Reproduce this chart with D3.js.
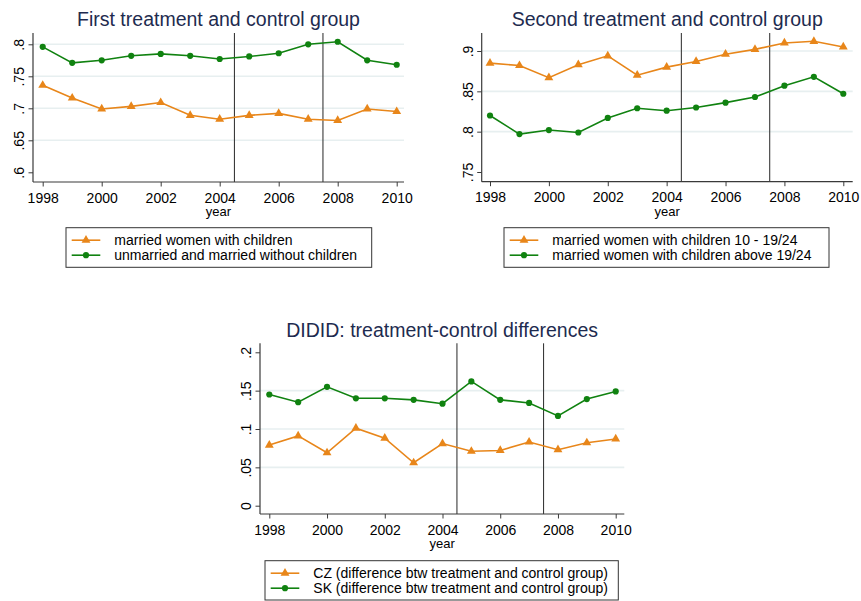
<!DOCTYPE html>
<html>
<head>
<meta charset="utf-8">
<script src="https://cdn.jsdelivr.net/npm/d3@7"></script>
<style>
  html, body { margin: 0; padding: 0; background: #ffffff; }
  svg { display: block; font-family: "Liberation Sans", Arial, sans-serif; }
</style>
</head>
<body>
<svg id="chart" width="861" height="601"></svg>
<script>
// ---------- data ----------
const years = [1998, 1999, 2000, 2001, 2002, 2003, 2004, 2005, 2006, 2007, 2008, 2009, 2010];
const xTickValues = [1998, 2000, 2002, 2004, 2006, 2008, 2010];
const reformLines = [2004.5, 2007.5];

// Panel 1
const p1Title = "First treatment and control group";
const p1Orange = [0.736, 0.716, 0.699, 0.703, 0.709, 0.689, 0.683, 0.689, 0.692, 0.683, 0.681, 0.699, 0.695];
const p1Green  = [0.796, 0.771, 0.775, 0.782, 0.785, 0.782, 0.777, 0.781, 0.786, 0.800, 0.804, 0.775, 0.768];
const p1OrangeLabel = "married women with children";
const p1GreenLabel = "unmarried and married without children";
const p1YTicks = [0.6, 0.65, 0.7, 0.75, 0.8];
const p1YTickLabels = [".6", ".65", ".7", ".75", ".8"];
const p1Grid = [0.65, 0.7, 0.75, 0.8];

// Panel 2
const p2Title = "Second treatment and control group";
const p2Orange = [0.885, 0.882, 0.867, 0.883, 0.894, 0.870, 0.880, 0.887, 0.896, 0.902, 0.910, 0.912, 0.905];
const p2Green  = [0.820, 0.797, 0.802, 0.799, 0.817, 0.829, 0.826, 0.830, 0.836, 0.843, 0.857, 0.868, 0.847];
const p2OrangeLabel = "married women with children 10 - 19/24";
const p2GreenLabel = "married women with children above 19/24";
const p2YTicks = [0.75, 0.8, 0.85, 0.9];
const p2YTickLabels = [".75", ".8", ".85", ".9"];
const p2Grid = [0.8, 0.85, 0.9];

// Panel 3
const p3Title = "DIDID: treatment-control differences";
const p3Orange = [0.079, 0.091, 0.069, 0.101, 0.088, 0.056, 0.081, 0.071, 0.072, 0.083, 0.073, 0.082, 0.087];
const p3Green  = [0.145, 0.135, 0.155, 0.140, 0.140, 0.138, 0.133, 0.162, 0.138, 0.134, 0.117, 0.139, 0.149];
const p3OrangeLabel = "CZ (difference btw treatment and control group)";
const p3GreenLabel = "SK (difference btw treatment and control group)";
const p3YTicks = [0, 0.05, 0.1, 0.15, 0.2];
const p3YTickLabels = ["0", ".05", ".1", ".15", ".2"];
const p3Grid = [0.05, 0.1, 0.15];

const xLabel = "year";

// ---------- styles ----------
const ORANGE = "#e8861a";
const GREEN = "#108210";
const AXIS = "#3a3a3a";
const GRID = "#e7eff0";
const TITLE = "#1e2b4f";

// ---------- layout ----------
const panels = [
  { title: p1Title, orange: p1Orange, green: p1Green, oLab: p1OrangeLabel, gLab: p1GreenLabel,
    yTicks: p1YTicks, yLabels: p1YTickLabels, grid: p1Grid,
    left: 33, right: 404, top: 33, bottom: 182,
    xr: [42.7, 396.7], yd: [0.6, 0.8], yr: [172.3, 44.3],
    leg: { x: 66, y: 227.7, w: 305.7, h: 39.6 }, titleY: 26 },
  { title: p2Title, orange: p2Orange, green: p2Green, oLab: p2OrangeLabel, gLab: p2GreenLabel,
    yTicks: p2YTicks, yLabels: p2YTickLabels, grid: p2Grid,
    left: 481.7, right: 852.7, top: 33, bottom: 181.7,
    xr: [490, 843.3], yd: [0.75, 0.9], yr: [172, 51],
    leg: { x: 504, y: 227.7, w: 325, h: 39.6 }, titleY: 26 },
  { title: p3Title, orange: p3Orange, green: p3Green, oLab: p3OrangeLabel, gLab: p3GreenLabel,
    yTicks: p3YTicks, yLabels: p3YTickLabels, grid: p3Grid,
    left: 260, right: 624.3, top: 343.3, bottom: 514,
    xr: [269.3, 615.7], yd: [0, 0.2], yr: [505.7, 352.3],
    leg: { x: 265, y: 560.7, w: 353.3, h: 39.3 }, titleY: 337.3 }
];

const svg = d3.select("#chart");
const triangle = d3.symbol().type(d3.symbolTriangle).size(34);
const circle = d3.symbol().type(d3.symbolCircle).size(30);

panels.forEach(p => {
  const g = svg.append("g");
  const x = d3.scaleLinear().domain([years[0], years[years.length - 1]]).range(p.xr);
  const y = d3.scaleLinear().domain(p.yd).range(p.yr);

  // title
  g.append("text")
    .attr("x", (p.left + p.right) / 2).attr("y", p.titleY)
    .attr("text-anchor", "middle").attr("font-size", 19.5).attr("fill", TITLE)
    .text(p.title);

  // gridlines
  g.selectAll(".grid").data(p.grid).enter().append("line")
    .attr("x1", p.left).attr("x2", p.right)
    .attr("y1", d => y(d)).attr("y2", d => y(d))
    .attr("stroke", GRID).attr("stroke-width", 1.6);

  // reform lines
  g.selectAll(".ref").data(reformLines).enter().append("line")
    .attr("x1", d => x(d)).attr("x2", d => x(d))
    .attr("y1", p.top).attr("y2", p.bottom)
    .attr("stroke", "#3a3a3a").attr("stroke-width", 1.1);

  // axes
  const yAxis = d3.axisLeft(y).tickValues(p.yTicks)
    .tickFormat((d, i) => p.yLabels[i]).tickSize(4.5).tickSizeOuter(0).tickPadding(3);
  const ya = g.append("g").attr("transform", `translate(${p.left},0)`).call(yAxis);
  ya.select(".domain").remove();
  ya.selectAll(".tick line").attr("stroke", AXIS);
  ya.selectAll(".tick text")
    .attr("font-size", 14).attr("fill", "#000")
    .attr("text-anchor", "middle").attr("dy", null)
    .attr("x", null)
    .attr("transform", "translate(-9,0) rotate(-90)")
    .attr("y", 0);
  g.append("line").attr("x1", p.left).attr("x2", p.left)
    .attr("y1", p.top).attr("y2", p.bottom).attr("stroke", AXIS).attr("stroke-width", 1.2);

  const xAxis = d3.axisBottom(x).tickValues(xTickValues).tickFormat(d3.format("d"))
    .tickSize(4.5).tickSizeOuter(0).tickPadding(5);
  const xa = g.append("g").attr("transform", `translate(0,${p.bottom})`).call(xAxis);
  xa.select(".domain").remove();
  xa.selectAll(".tick line").attr("stroke", AXIS);
  xa.selectAll(".tick text").attr("font-size", 14).attr("fill", "#000")
    .attr("dy", null).attr("y", 20.5);
  g.append("line").attr("x1", p.left).attr("x2", p.right)
    .attr("y1", p.bottom).attr("y2", p.bottom).attr("stroke", AXIS).attr("stroke-width", 1.2);

  g.append("text").attr("x", (p.left + p.right) / 2).attr("y", p.bottom + 34)
    .attr("text-anchor", "middle").attr("font-size", 13).attr("fill", "#000").text(xLabel);

  // series
  const series = [
    { vals: p.green, color: GREEN, sym: circle },
    { vals: p.orange, color: ORANGE, sym: triangle }
  ];
  const line = d3.line().x((d, i) => x(years[i])).y(d => y(d));
  series.forEach(s => {
    g.append("path").datum(s.vals).attr("d", line)
      .attr("fill", "none").attr("stroke", s.color).attr("stroke-width", 1.6);
    g.selectAll(null).data(s.vals).enter().append("path")
      .attr("d", s.sym)
      .attr("transform", (d, i) => `translate(${x(years[i])},${y(d)})`)
      .attr("fill", s.color);
  });

  // legend
  const L = p.leg;
  g.append("rect").attr("x", L.x).attr("y", L.y).attr("width", L.w).attr("height", L.h)
    .attr("fill", "#fff").attr("stroke", "#333").attr("stroke-width", 1);
  const entries = [
    { label: p.oLab, color: ORANGE, sym: triangle, dy: 12.5 },
    { label: p.gLab, color: GREEN, sym: circle, dy: 27.5 }
  ];
  entries.forEach(e => {
    const ly = L.y + e.dy;
    g.append("line").attr("x1", L.x + 5.7).attr("x2", L.x + 34.3)
      .attr("y1", ly).attr("y2", ly).attr("stroke", e.color).attr("stroke-width", 1.6);
    g.append("path").attr("d", e.sym).attr("transform", `translate(${L.x + 20},${ly})`)
      .attr("fill", e.color);
    g.append("text").attr("x", L.x + 48.3).attr("y", ly + 5)
      .attr("font-size", 14).attr("fill", "#000").text(e.label);
  });
});
</script>
</body>
</html>
